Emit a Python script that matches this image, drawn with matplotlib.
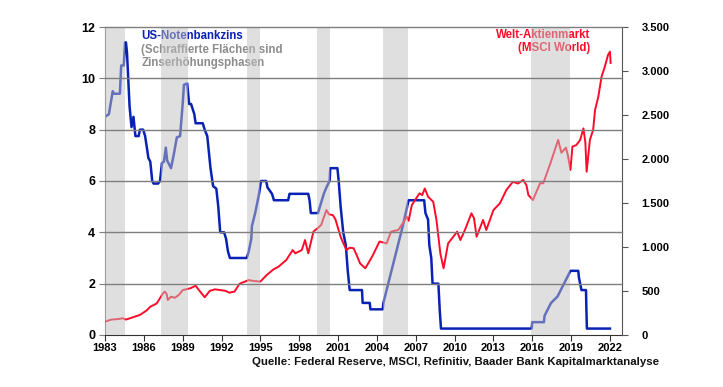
import matplotlib
matplotlib.use("Agg")
import matplotlib.pyplot as plt
from matplotlib.ticker import FuncFormatter

plt.rcParams['font.family'] = ['Liberation Sans', 'DejaVu Sans']
plt.rcParams['font.weight'] = 'bold'

# US Fed funds target rate (%), left axis
fed_t = [1983.0, 1983.3, 1983.6, 1983.7, 1984.15, 1984.25, 1984.45, 1984.55, 1984.62,
         1984.7, 1984.9, 1985.05, 1985.2, 1985.35, 1985.6, 1985.7, 1985.95, 1986.1,
         1986.25, 1986.35, 1986.5, 1986.65, 1986.75, 1987.1, 1987.25, 1987.4, 1987.55,
         1987.7, 1987.8, 1988.1, 1988.3, 1988.55, 1988.8, 1989.0, 1989.1, 1989.35,
         1989.5, 1989.65, 1989.9, 1990.0, 1990.55, 1990.7, 1990.9, 1991.0, 1991.15,
         1991.35, 1991.6, 1991.75, 1991.9, 1992.2, 1992.35, 1992.5, 1992.65, 1993.95,
         1994.1, 1994.3, 1994.35, 1994.6, 1994.9, 1995.05, 1995.45, 1995.55, 1995.9,
         1996.05, 1997.15, 1997.25, 1998.7, 1998.8, 1998.9, 1999.45, 1999.6, 1999.9,
         2000.1, 2000.35, 2000.4, 2000.95, 2001.05, 2001.2, 2001.4, 2001.6, 2001.75,
         2001.9, 2002.85, 2002.9, 2003.45, 2003.5, 2004.45, 2004.5, 2005.0, 2005.5,
         2006.0, 2006.45, 2007.65, 2007.75, 2007.95, 2008.05, 2008.2, 2008.3, 2008.75,
         2008.85, 2008.95, 2015.95, 2016.0, 2016.9, 2016.95, 2017.2, 2017.45, 2017.95,
         2018.2, 2018.45, 2018.7, 2018.95, 2019.55, 2019.6, 2019.7, 2019.8, 2020.15,
         2020.18, 2020.22, 2022.0]
fed_v = [8.5, 8.6, 9.5, 9.4, 9.4, 10.5, 10.5, 11.4, 11.4,
         11.0, 8.9, 8.1, 8.5, 7.75, 7.75, 8.0, 8.0, 7.75,
         7.25, 6.9, 6.75, 6.0, 5.9, 5.9, 6.0, 6.7, 6.75,
         7.3, 6.8, 6.5, 7.0, 7.7, 7.75, 9.0, 9.75, 9.8,
         9.0, 9.0, 8.6, 8.25, 8.25, 8.0, 7.75, 7.25, 6.5,
         5.8, 5.7, 5.0, 4.0, 4.0, 3.75, 3.25, 3.0, 3.0,
         3.25, 3.75, 4.25, 4.75, 5.5, 6.0, 6.0, 5.75, 5.5,
         5.25, 5.25, 5.5, 5.5, 5.25, 4.75, 4.75, 5.0, 5.5,
         5.75, 6.0, 6.5, 6.5, 6.0, 5.0, 4.0, 3.5, 2.5,
         1.75, 1.75, 1.25, 1.25, 1.0, 1.0, 1.25, 2.25, 3.25,
         4.25, 5.25, 5.25, 4.75, 4.5, 3.5, 3.0, 2.0, 2.0,
         1.0, 0.25, 0.25, 0.5, 0.5, 0.75, 1.0, 1.25, 1.5,
         1.75, 2.0, 2.25, 2.5, 2.5, 2.25, 2.0, 1.75, 1.75,
         1.0, 0.25, 0.25]

# MSCI World index (points), right axis
msci_t = [1983.0, 1983.5, 1984.0, 1984.4, 1984.6, 1985.0, 1985.7, 1986.2, 1986.5, 1987.0,
          1987.4, 1987.6, 1987.75, 1987.85, 1988.1, 1988.4, 1988.7, 1989.0, 1989.6, 1990.0,
          1990.3, 1990.7, 1991.1, 1991.5, 1991.9, 1992.3, 1992.6, 1993.0, 1993.4, 1994.1,
          1994.5, 1995.0, 1995.5, 1996.0, 1996.4, 1997.0, 1997.5, 1997.7, 1998.2, 1998.45,
          1998.7, 1999.1, 1999.4, 1999.7, 2000.1, 2000.3, 2000.6, 2000.8, 2001.0, 2001.2,
          2001.3, 2001.65, 2001.9, 2002.2, 2002.45, 2002.7, 2003.1, 2003.4, 2003.7, 2004.2,
          2004.75, 2005.1, 2005.65, 2006.0, 2006.3, 2006.45, 2006.7, 2007.0, 2007.3, 2007.5,
          2007.7, 2007.95, 2008.35, 2008.6, 2008.9, 2009.15, 2009.5, 2009.9, 2010.2, 2010.45,
          2010.8, 2011.3, 2011.5, 2011.7, 2012.2, 2012.45, 2013.0, 2013.5, 2014.0, 2014.5,
          2014.9, 2015.3, 2015.55, 2015.7, 2016.05, 2016.6, 2016.85, 2017.4, 2018.0, 2018.25,
          2018.6, 2018.75, 2018.95, 2019.1, 2019.4, 2019.7, 2019.95, 2020.1, 2020.2, 2020.45,
          2020.7, 2020.85, 2021.1, 2021.35, 2021.6, 2021.85, 2022.0, 2022.05]
msci_v = [152, 175, 181, 190, 175, 193, 228, 277, 321, 359,
          455, 493, 473, 397, 435, 423, 455, 510, 531, 560,
          502, 429, 502, 519, 510, 502, 481, 493, 583, 624,
          613, 607, 683, 744, 776, 852, 965, 928, 965, 1079,
          928, 1175, 1210, 1251, 1420, 1371, 1362, 1313, 1213, 1117,
          1079, 965, 992, 986, 904, 814, 758, 831, 910, 1062,
          1041, 1175, 1193, 1269, 1345, 1298, 1476, 1546, 1610, 1590,
          1665, 1572, 1514, 1307, 928, 758, 1041, 1117, 1175, 1079,
          1193, 1383, 1327, 1117, 1307, 1193, 1420, 1496, 1648, 1741,
          1721, 1762, 1703, 1590, 1534, 1724, 1724, 1951, 2217, 2071,
          2129, 2042, 1875, 2141, 2158, 2217, 2348, 2188, 1855, 2217,
          2330, 2558, 2707, 2934, 3048, 3182, 3220, 3092]

# Fed hiking phases (shaded)
hike_start = [1983.0, 1987.3, 1994.0, 1999.4, 2004.5, 2015.9]
hike_end = [1984.55, 1989.4, 1995.0, 2000.4, 2006.4, 2018.9]

years = list(range(1983, 2023, 3))
left_ticks = [0, 2, 4, 6, 8, 10, 12]
right_ticks = [0, 500, 1000, 1500, 2000, 2500, 3000, 3500]

blue = '#0a22b4'
red = '#ff0a28'
grid_col = '#7f7f7f'

fig = plt.figure(figsize=(7.23, 3.87), dpi=100)
ax = fig.add_axes([0.1452, 0.1344, 0.7151, 0.7958])
ax2 = ax.twinx()

ax.plot(fed_t, fed_v, color=blue, lw=1.8, zorder=2)
ax2.plot(msci_t, msci_v, color=red, lw=1.4, zorder=2)

ax.set_xlim(1983, 2022.93)
ax.set_ylim(0, 12)
ax2.set_ylim(0, 3500)

# shaded bands on the top axes, so they lie over lines and labels
for s, e in zip(hike_start, hike_end):
    ax2.axvspan(s, e, color='#c0c0c0', alpha=0.5, lw=0, zorder=3)

# horizontal grid at left-axis ticks, above the bands
for v in left_ticks[1:]:
    ax2.plot([0, 1], [v, v], transform=ax.get_yaxis_transform(),
             color=grid_col, lw=1.0, zorder=4, clip_on=False)

for sp in ['top']:
    ax.spines[sp].set_visible(False)
    ax2.spines[sp].set_visible(False)
ax2.spines['left'].set_visible(False)
ax2.spines['bottom'].set_visible(False)
ax.spines['left'].set_color(grid_col)
ax.spines['right'].set_visible(False)
ax2.spines['right'].set_color('#555555')
ax.spines['bottom'].set_color('#333333')
ax.spines['bottom'].set_zorder(5)

ax.set_xticks(years)
ax.set_yticks(left_ticks)
ax2.set_yticks(right_ticks)
ax2.yaxis.set_major_formatter(FuncFormatter(lambda v, p: f'{int(v):,}'.replace(',', '.')))

ax.tick_params(axis='x', direction='out', length=4, color='#333333', labelsize=8, pad=2)
ax.tick_params(axis='y', direction='out', length=4, color=grid_col, labelsize=9, pad=3)
ax2.tick_params(axis='y', direction='out', length=4, color='#555555', labelsize=8, pad=10)

ax.text(1985.8, 11.65, 'US-Notenbankzins', color=blue, fontsize=8.3, fontweight='bold',
        ha='left', va='center', zorder=1)
ax.text(1985.8, 11.1, '(Schraffierte Flächen sind', color='#8c8c8c', fontsize=8.3,
        fontweight='bold', ha='left', va='center', zorder=1)
ax.text(1985.8, 10.6, 'Zinserhöhungsphasen', color='#8c8c8c', fontsize=8.3,
        fontweight='bold', ha='left', va='center', zorder=1)
ax.text(2020.5, 11.7, 'Welt-Aktienmarkt', color=red, fontsize=8.3, fontweight='bold',
        ha='right', va='center', zorder=1)
ax.text(2020.5, 11.2, '(MSCI World)', color=red, fontsize=8.3, fontweight='bold',
        ha='right', va='center', zorder=1)

fig.text(659 / 723, 1 - 362 / 387, 'Quelle: Federal Reserve, MSCI, Refinitiv, Baader Bank Kapitalmarktanalyse',
         ha='right', va='center', fontsize=8.2, fontweight='bold', color='#111111')

fig.savefig('out.png', dpi=100)
